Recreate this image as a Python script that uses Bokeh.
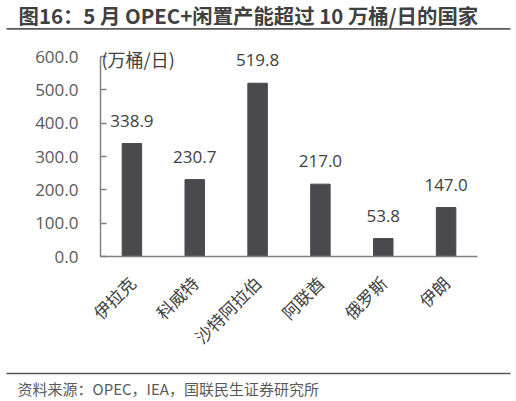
import math
from bokeh.plotting import figure
from bokeh.layouts import column
from bokeh.models import ColumnDataSource, Label, FixedTicker, PrintfTickFormatter, Range1d
from bokeh.core.properties import value
from bokeh.embed import file_html
from bokeh.resources import INLINE

countries = ["伊拉克", "科威特", "沙特阿拉伯", "阿联酋", "俄罗斯", "伊朗"]
capacity = [338.9, 230.7, 519.8, 217.0, 53.8, 147.0]
y_ticks = [0, 100, 200, 300, 400, 500, 600]
title_text = "图16：5 月 OPEC+闲置产能超过 10 万桶/日的国家"
unit_text = "(万桶/日)"
source_text = "资料来源：OPEC，IEA，国联民生证券研究所"

NUM_FONT = "Open Sans"
CJK_FONT = "Noto Sans CJK SC"
W = 516


def blank_fig(h):
    f = figure(width=W, height=h, x_range=Range1d(0, W), y_range=Range1d(0, h),
               output_backend="svg", toolbar_location=None,
               x_axis_location=None, y_axis_location=None, min_border=0,
               frame_align=False)
    f.grid.visible = False
    f.outline_line_color = None
    return f


# ---- header (y measured upward from the bottom of this strip) ----
TOP_H = 36
top = blank_fig(TOP_H)
top.text(x=[18], y=[22], text=[title_text], text_baseline="middle", text_align="left",
         text_font=value(CJK_FONT), text_font_style="bold", text_font_size="20.4px",
         text_color="#404040")
top.segment(x0=[6], y0=[7.7], x1=[510], y1=[7.7], line_width=1.8, line_color="#595959")

# ---- main chart ----
MAIN_H = 326
src = ColumnDataSource(dict(x=countries, y=capacity,
                            label=[f"{v:.1f}" for v in capacity]))

p = figure(x_range=countries, y_range=(0, 648), width=W, height=MAIN_H,
           output_backend="svg", toolbar_location=None, frame_align=False,
           min_border_left=100, min_border_right=39,
           min_border_top=4, min_border_bottom=106)
p.vbar(x="x", top="y", width=0.31, source=src, color="#4A494E")
p.text(x="x", y="y", text="label", source=src, y_offset=-23,
       text_align="center", text_baseline="alphabetic",
       text_font=value(NUM_FONT), text_font_size="17px", text_color="#404040")

p.xgrid.visible = False
p.ygrid.visible = False
p.outline_line_color = None

ya = p.yaxis[0]
ya.ticker = FixedTicker(ticks=y_ticks)
ya.bounds = (0, 600)
ya.formatter = PrintfTickFormatter(format="%.1f")
ya.major_tick_in = 6
ya.major_tick_out = 0
ya.minor_tick_line_color = None
ya.axis_line_color = "#808080"
ya.axis_line_width = 1.5
ya.major_tick_line_color = "#808080"
ya.major_tick_line_width = 1.5
ya.major_label_standoff = 22
ya.major_label_text_font = NUM_FONT
ya.major_label_text_font_size = "17px"
ya.major_label_text_color = "#595959"

xa = p.xaxis[0]
xa.major_label_orientation = math.pi / 4
xa.major_tick_line_color = None
xa.minor_tick_line_color = None
xa.axis_line_color = "#808080"
xa.axis_line_width = 1.5
xa.major_label_standoff = 17
xa.major_label_text_font = CJK_FONT
xa.major_label_text_font_size = "17px"
xa.major_label_text_color = "#404040"

p.add_layout(Label(x=101, y=22, x_units="canvas", y_units="canvas", text=unit_text,
                   text_baseline="middle", text_align="left",
                   text_font=CJK_FONT, text_font_size="18px", text_color="#404040"))

# ---- footer (y measured upward from the bottom of this strip) ----
BOT_H = 39
bot = blank_fig(BOT_H)
bot.segment(x0=[6], y0=[28], x1=[510], y1=[28], line_width=1.6, line_color="#595959")
bot.text(x=[17], y=[13], text=[source_text], text_baseline="middle", text_align="left",
         text_font=value(CJK_FONT), text_font_size="15px", text_color="#595959")

layout = column(top, p, bot, spacing=0)
open("out.html", "w").write(file_html(layout, INLINE))
